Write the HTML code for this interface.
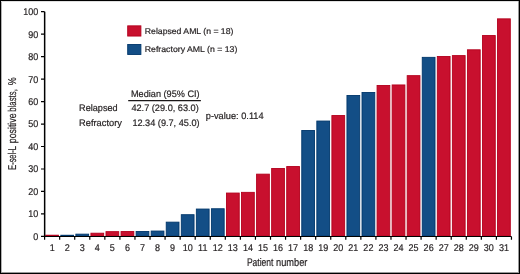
<!DOCTYPE html>
<html><head><meta charset="utf-8"><style>
html,body{margin:0;padding:0;background:#fff;}
body{width:520px;height:274px;overflow:hidden;}
svg{display:block;will-change:transform;}
text{font-family:"Liberation Sans",sans-serif;fill:#231f20;text-rendering:geometricPrecision;stroke:#231f20;stroke-width:0.2px;}
.t{font-size:9.8px;}
.m{font-size:9.4px;}
</style></head><body>
<svg width="520" height="274" viewBox="0 0 520 274">
<rect x="0" y="0" width="520" height="274" fill="#fff"/>
<rect x="0" y="0" width="520" height="1" fill="#000"/>
<rect x="0" y="273" width="520" height="1" fill="#000"/>
<rect x="0" y="0" width="1" height="274" fill="#000"/>
<rect x="519" y="0" width="1" height="274" fill="#000"/>
<rect x="1" y="1" width="517" height="1" fill="#000" fill-opacity="0.12"/>
<rect x="1" y="2" width="1" height="270" fill="#000" fill-opacity="0.3"/>
<rect x="518" y="1" width="1" height="272" fill="#000" fill-opacity="0.4"/>
<rect x="1" y="272" width="517" height="1" fill="#000" fill-opacity="0.4"/>

<rect x="45.75" y="235.2" width="12.76" height="0.95" fill="#c8102e" stroke="#b3001c" stroke-width="0.9"/>
<rect x="60.81" y="235.25" width="12.76" height="0.9" fill="#134e86" stroke="#00376b" stroke-width="0.9"/>
<rect x="75.87" y="234.15" width="12.76" height="2" fill="#134e86" stroke="#00376b" stroke-width="0.9"/>
<rect x="90.93" y="233.2" width="12.76" height="2.95" fill="#c8102e" stroke="#b3001c" stroke-width="0.9"/>
<rect x="105.99" y="231.65" width="12.76" height="4.5" fill="#c8102e" stroke="#b3001c" stroke-width="0.9"/>
<rect x="121.05" y="231.55" width="12.76" height="4.6" fill="#c8102e" stroke="#b3001c" stroke-width="0.9"/>
<rect x="136.11" y="231.45" width="12.76" height="4.7" fill="#134e86" stroke="#00376b" stroke-width="0.9"/>
<rect x="151.17" y="231.05" width="12.76" height="5.1" fill="#134e86" stroke="#00376b" stroke-width="0.9"/>
<rect x="166.23" y="222.15" width="12.76" height="14" fill="#134e86" stroke="#00376b" stroke-width="0.9"/>
<rect x="181.29" y="214.7" width="12.76" height="21.45" fill="#134e86" stroke="#00376b" stroke-width="0.9"/>
<rect x="196.35" y="209.05" width="12.76" height="27.1" fill="#134e86" stroke="#00376b" stroke-width="0.9"/>
<rect x="211.41" y="208.75" width="12.76" height="27.4" fill="#134e86" stroke="#00376b" stroke-width="0.9"/>
<rect x="226.47" y="193.05" width="12.76" height="43.1" fill="#c8102e" stroke="#b3001c" stroke-width="0.9"/>
<rect x="241.53" y="192.35" width="12.76" height="43.8" fill="#c8102e" stroke="#b3001c" stroke-width="0.9"/>
<rect x="256.59" y="174.15" width="12.76" height="62" fill="#c8102e" stroke="#b3001c" stroke-width="0.9"/>
<rect x="271.65" y="168.45" width="12.76" height="67.7" fill="#c8102e" stroke="#b3001c" stroke-width="0.9"/>
<rect x="286.71" y="166.55" width="12.76" height="69.6" fill="#c8102e" stroke="#b3001c" stroke-width="0.9"/>
<rect x="301.77" y="130.45" width="12.76" height="105.7" fill="#134e86" stroke="#00376b" stroke-width="0.9"/>
<rect x="316.83" y="121.05" width="12.76" height="115.1" fill="#134e86" stroke="#00376b" stroke-width="0.9"/>
<rect x="331.89" y="115.55" width="12.76" height="120.6" fill="#c8102e" stroke="#b3001c" stroke-width="0.9"/>
<rect x="346.95" y="95.45" width="12.76" height="140.7" fill="#134e86" stroke="#00376b" stroke-width="0.9"/>
<rect x="362.01" y="92.45" width="12.76" height="143.7" fill="#134e86" stroke="#00376b" stroke-width="0.9"/>
<rect x="377.07" y="85.45" width="12.76" height="150.7" fill="#c8102e" stroke="#b3001c" stroke-width="0.9"/>
<rect x="392.13" y="84.95" width="12.76" height="151.2" fill="#c8102e" stroke="#b3001c" stroke-width="0.9"/>
<rect x="407.19" y="75.65" width="12.76" height="160.5" fill="#c8102e" stroke="#b3001c" stroke-width="0.9"/>
<rect x="422.25" y="57.35" width="12.76" height="178.8" fill="#134e86" stroke="#00376b" stroke-width="0.9"/>
<rect x="437.31" y="56.45" width="12.76" height="179.7" fill="#c8102e" stroke="#b3001c" stroke-width="0.9"/>
<rect x="452.37" y="55.6" width="12.76" height="180.55" fill="#c8102e" stroke="#b3001c" stroke-width="0.9"/>
<rect x="467.43" y="49.8" width="12.76" height="186.35" fill="#c8102e" stroke="#b3001c" stroke-width="0.9"/>
<rect x="482.49" y="35.55" width="12.76" height="200.6" fill="#c8102e" stroke="#b3001c" stroke-width="0.9"/>
<rect x="497.55" y="18.85" width="12.76" height="217.3" fill="#c8102e" stroke="#b3001c" stroke-width="0.9"/>
<path d="M44.65 11.7V237.1" stroke="#000" stroke-width="1.5" fill="none"/>
<path d="M44.6 236.55H511.46" stroke="#000" stroke-width="1.1" fill="none"/>
<path d="M41 236.4H44.6M41 213.93H44.6M41 191.46H44.6M41 168.99H44.6M41 146.52H44.6M41 124.05H44.6M41 101.58H44.6M41 79.11H44.6M41 56.64H44.6M41 34.17H44.6M41 11.7H44.6" stroke="#000" stroke-width="1.2" fill="none"/>
<path d="M44.6 236.5V239.8M59.66 236.5V239.8M74.72 236.5V239.8M89.78 236.5V239.8M104.84 236.5V239.8M119.9 236.5V239.8M134.96 236.5V239.8M150.02 236.5V239.8M165.08 236.5V239.8M180.14 236.5V239.8M195.2 236.5V239.8M210.26 236.5V239.8M225.32 236.5V239.8M240.38 236.5V239.8M255.44 236.5V239.8M270.5 236.5V239.8M285.56 236.5V239.8M300.62 236.5V239.8M315.68 236.5V239.8M330.74 236.5V239.8M345.8 236.5V239.8M360.86 236.5V239.8M375.92 236.5V239.8M390.98 236.5V239.8M406.04 236.5V239.8M421.1 236.5V239.8M436.16 236.5V239.8M451.22 236.5V239.8M466.28 236.5V239.8M481.34 236.5V239.8M496.4 236.5V239.8M511.46 236.5V239.8" stroke="#000" stroke-width="1.2" fill="none"/>
<text transform="translate(38.2 239.8) scale(0.92 1)" text-anchor="end" class="t">0</text>
<text transform="translate(38.2 217.33) scale(0.92 1)" text-anchor="end" class="t">10</text>
<text transform="translate(38.2 194.86) scale(0.92 1)" text-anchor="end" class="t">20</text>
<text transform="translate(38.2 172.39) scale(0.92 1)" text-anchor="end" class="t">30</text>
<text transform="translate(38.2 149.92) scale(0.92 1)" text-anchor="end" class="t">40</text>
<text transform="translate(38.2 127.45) scale(0.92 1)" text-anchor="end" class="t">50</text>
<text transform="translate(38.2 104.98) scale(0.92 1)" text-anchor="end" class="t">60</text>
<text transform="translate(38.2 82.51) scale(0.92 1)" text-anchor="end" class="t">70</text>
<text transform="translate(38.2 60.04) scale(0.92 1)" text-anchor="end" class="t">80</text>
<text transform="translate(38.2 37.57) scale(0.92 1)" text-anchor="end" class="t">90</text>
<text transform="translate(38.2 15.1) scale(0.92 1)" text-anchor="end" class="t">100</text>
<text transform="translate(52.13 250.6) scale(0.92 1)" text-anchor="middle" class="t">1</text>
<text transform="translate(67.19 250.6) scale(0.92 1)" text-anchor="middle" class="t">2</text>
<text transform="translate(82.25 250.6) scale(0.92 1)" text-anchor="middle" class="t">3</text>
<text transform="translate(97.31 250.6) scale(0.92 1)" text-anchor="middle" class="t">4</text>
<text transform="translate(112.37 250.6) scale(0.92 1)" text-anchor="middle" class="t">5</text>
<text transform="translate(127.43 250.6) scale(0.92 1)" text-anchor="middle" class="t">6</text>
<text transform="translate(142.49 250.6) scale(0.92 1)" text-anchor="middle" class="t">7</text>
<text transform="translate(157.55 250.6) scale(0.92 1)" text-anchor="middle" class="t">8</text>
<text transform="translate(172.61 250.6) scale(0.92 1)" text-anchor="middle" class="t">9</text>
<text transform="translate(187.67 250.6) scale(0.92 1)" text-anchor="middle" class="t">10</text>
<text transform="translate(202.73 250.6) scale(0.92 1)" text-anchor="middle" class="t">11</text>
<text transform="translate(217.79 250.6) scale(0.92 1)" text-anchor="middle" class="t">12</text>
<text transform="translate(232.85 250.6) scale(0.92 1)" text-anchor="middle" class="t">13</text>
<text transform="translate(247.91 250.6) scale(0.92 1)" text-anchor="middle" class="t">14</text>
<text transform="translate(262.97 250.6) scale(0.92 1)" text-anchor="middle" class="t">15</text>
<text transform="translate(278.03 250.6) scale(0.92 1)" text-anchor="middle" class="t">16</text>
<text transform="translate(293.09 250.6) scale(0.92 1)" text-anchor="middle" class="t">17</text>
<text transform="translate(308.15 250.6) scale(0.92 1)" text-anchor="middle" class="t">18</text>
<text transform="translate(323.21 250.6) scale(0.92 1)" text-anchor="middle" class="t">19</text>
<text transform="translate(338.27 250.6) scale(0.92 1)" text-anchor="middle" class="t">20</text>
<text transform="translate(353.33 250.6) scale(0.92 1)" text-anchor="middle" class="t">21</text>
<text transform="translate(368.39 250.6) scale(0.92 1)" text-anchor="middle" class="t">22</text>
<text transform="translate(383.45 250.6) scale(0.92 1)" text-anchor="middle" class="t">23</text>
<text transform="translate(398.51 250.6) scale(0.92 1)" text-anchor="middle" class="t">24</text>
<text transform="translate(413.57 250.6) scale(0.92 1)" text-anchor="middle" class="t">25</text>
<text transform="translate(428.63 250.6) scale(0.92 1)" text-anchor="middle" class="t">26</text>
<text transform="translate(443.69 250.6) scale(0.92 1)" text-anchor="middle" class="t">27</text>
<text transform="translate(458.75 250.6) scale(0.92 1)" text-anchor="middle" class="t">28</text>
<text transform="translate(473.81 250.6) scale(0.92 1)" text-anchor="middle" class="t">29</text>
<text transform="translate(488.87 250.6) scale(0.92 1)" text-anchor="middle" class="t">30</text>
<text transform="translate(503.93 250.6) scale(0.92 1)" text-anchor="middle" class="t">31</text>
<text x="246.9" y="266.1" font-size="11" textLength="26.6" lengthAdjust="spacingAndGlyphs">Patient</text>
<text x="276.0" y="266.1" font-size="11" textLength="31.4" lengthAdjust="spacingAndGlyphs">number</text>
<g transform="translate(16.4,0) rotate(-90)" font-size="11.4" style="stroke-width:0.3px">
<text x="-169.8" y="0" textLength="23.6" lengthAdjust="spacingAndGlyphs">E-sel-L</text>
<text x="-143.2" y="0" textLength="29.8" lengthAdjust="spacingAndGlyphs">positive</text>
<text x="-111.7" y="0" textLength="22.5" lengthAdjust="spacingAndGlyphs">blasts,</text>
<text x="-85.2" y="0" textLength="7.9" lengthAdjust="spacingAndGlyphs">%</text>
</g>
<rect x="127.7" y="25.85" width="13.2" height="10.2" fill="#c8102e" stroke="#b3001c" stroke-width="0.9"/>
<rect x="127.7" y="44.45" width="13.2" height="10.0" fill="#134e86" stroke="#00376b" stroke-width="0.9"/>
<text x="144.8" y="33.6" font-size="8.4" textLength="88.6" lengthAdjust="spacingAndGlyphs">Relapsed AML (n = 18)</text>
<text x="144.8" y="51.7" font-size="8.4" textLength="92.5" lengthAdjust="spacingAndGlyphs">Refractory AML (n = 13)</text>
<text x="131" y="97" class="m" textLength="68.6" lengthAdjust="spacingAndGlyphs">Median (95% CI)</text>
<path d="M128.2 100.65H200.9" stroke="#1a1718" stroke-width="1.15"/>
<text x="79.1" y="111.2" class="m" textLength="38.5" lengthAdjust="spacingAndGlyphs">Relapsed</text>
<text x="131.4" y="111.2" class="m" textLength="67.4" lengthAdjust="spacingAndGlyphs">42.7 (29.0, 63.0)</text>
<text x="79.1" y="125.5" class="m" textLength="42.8" lengthAdjust="spacingAndGlyphs">Refractory</text>
<text x="132.4" y="125.5" class="m" textLength="67.2" lengthAdjust="spacingAndGlyphs">12.34 (9.7, 45.0)</text>
<text x="205.8" y="118.5" class="m" textLength="57.8" lengthAdjust="spacingAndGlyphs">p-value: 0.114</text>
</svg>
</body></html>
